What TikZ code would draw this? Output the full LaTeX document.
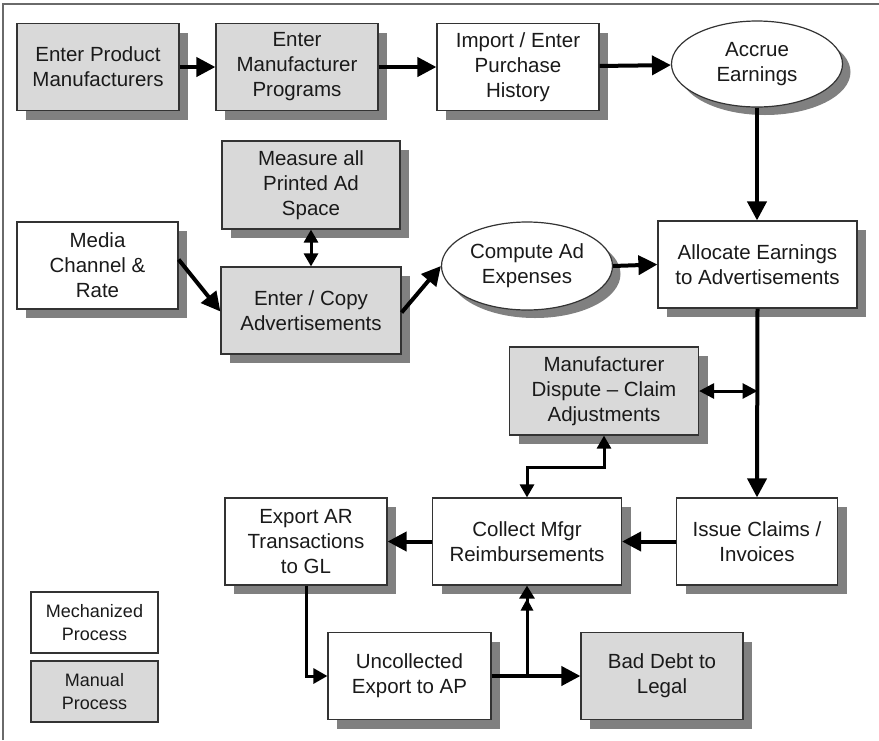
\documentclass[tikz,border=0pt]{standalone}
\usepackage{fontspec}
\setmainfont{Liberation Sans}
\usetikzlibrary{shapes.geometric,shadows,arrows.meta}
\definecolor{manualfill}{HTML}{D9D9D9}
\definecolor{shadowgray}{HTML}{808080}
\definecolor{edgegray}{HTML}{333333}
\definecolor{inkgray}{HTML}{1A1A1A}
\definecolor{framegray}{HTML}{6A6A6A}
\begin{document}
\begin{tikzpicture}[x=1pt,y=-1pt,
  every node/.style={font=\fontsize{20.5}{25}\selectfont, text=inkgray, align=center, inner sep=0pt},
  proc/.style={rectangle, draw=edgegray, line width=1.2pt, fill=white,
    minimum width=162pt, minimum height=87pt,
    general shadow={shadow xshift=9pt, shadow yshift=-9pt, fill=shadowgray}},
  manual/.style={proc, fill=manualfill},
  oval/.style={ellipse, draw=edgegray, line width=1.2pt, fill=white,
    minimum width=171pt, minimum height=86pt,
    general shadow={shadow xshift=8pt, shadow yshift=-8pt, fill=shadowgray}},
  legendbox/.style={rectangle, draw=edgegray, line width=1.2pt,
    minimum width=127pt, minimum height=61pt, font=\fontsize{18}{23}\selectfont},
  flow/.style={line width=4pt, -{Triangle[length=19pt,width=19pt]}},
  twoway/.style={line width=3pt, {Triangle[length=13pt,width=14pt]}-{Triangle[length=13pt,width=14pt]}},
  wide twoway/.style={line width=3pt, {Triangle[length=15pt,width=15pt]}-{Triangle[length=15pt,width=15pt]}},
  thin flow/.style={line width=3pt, -{Triangle[length=14pt,width=15pt]}},
  merge flow/.style={line width=3pt, -{Triangle[length=12pt,width=12pt]Triangle[length=13pt,width=15pt]}},
]
\useasboundingbox (0,0) rectangle (879,740);
% frame
\draw[framegray, line width=2pt] (3,740) -- (3,4) -- (879,4);

% top row
\node[manual] (epm) at (98,67) {Enter Product\\Manufacturers};
\node[manual] (emp) at (297,67) {Enter\\Manufacturer\\Programs};
\node[proc] (iph) at (518,67) {Import / Enter\\Purchase\\History};
\node[oval] (accrue) at (757,64) {Accrue\\Earnings};

% advertising row
\node[manual, minimum width=178pt, minimum height=88pt] (measure) at (311,185) {Measure all\\Printed Ad\\Space};
\node[proc, minimum width=161pt] (media) at (97.5,265.5) {Media\\Channel \&\\Rate};
\node[manual, minimum width=180pt] (entercopy) at (311,310.5) {Enter / Copy\\Advertisements};
\node[oval, minimum height=88pt] (compute) at (527,266) {Compute Ad\\Expenses};
\node[proc, minimum width=199pt] (allocate) at (757.5,264.5) {Allocate Earnings\\to Advertisements};

% claims
\node[manual, minimum width=189pt, minimum height=88pt] (dispute) at (604,391) {Manufacturer\\Dispute -- Claim\\Adjustments};
\node[proc, minimum width=161pt] (issue) at (757,541.5) {Issue Claims /\\Invoices};
\node[proc, minimum width=189pt] (collect) at (527,541.5) {Collect Mfgr\\Reimbursements};
\node[proc] (exportar) at (306,541.5) {Export AR\\Transactions\\to GL};
\node[proc, minimum width=163pt] (uncollected) at (409.5,676) {Uncollected\\Export to AP};
\node[manual] (baddebt) at (662,676) {Bad Debt to\\Legal};

% legend
\node[legendbox, fill=white] (legmech) at (94.5,622.5) {Mechanized\\Process};
\node[legendbox, fill=manualfill] (legman) at (94.5,691.5) {Manual\\Process};

% connectors
\draw[flow] (epm) -- (emp);
\draw[flow] (emp) -- (iph);
\draw[flow] (iph) -- (accrue);
\draw[flow] (accrue.south) -- (accrue.south |- allocate.north);
\draw[twoway] (measure.south) -- (entercopy.north);
\draw[flow] ([yshift=6pt]media.east) -- ([yshift=-1pt]entercopy.west);
\draw[flow] ([yshift=-2pt]entercopy.east) -- (compute.west);
\draw[flow] (compute.east) -- (allocate.west);
\draw[flow] (allocate.south) -- (issue.north);
\coordinate (tap) at (allocate.south |- dispute.east);
\draw[wide twoway] (dispute.east) -- (tap);
\coordinate (bend) at (604,467);
\draw[twoway] (dispute.south) -- (bend) -| (collect.north);
\draw[flow] (issue) -- (collect);
\draw[flow] (collect) -- (exportar);
\draw[thin flow] (exportar.south) |- (uncollected.west);
\draw[flow] (uncollected) -- (baddebt);
\coordinate (fork) at (collect.south |- uncollected.east);
\draw[merge flow] (fork) -- (collect.south);
\end{tikzpicture}
\end{document}
